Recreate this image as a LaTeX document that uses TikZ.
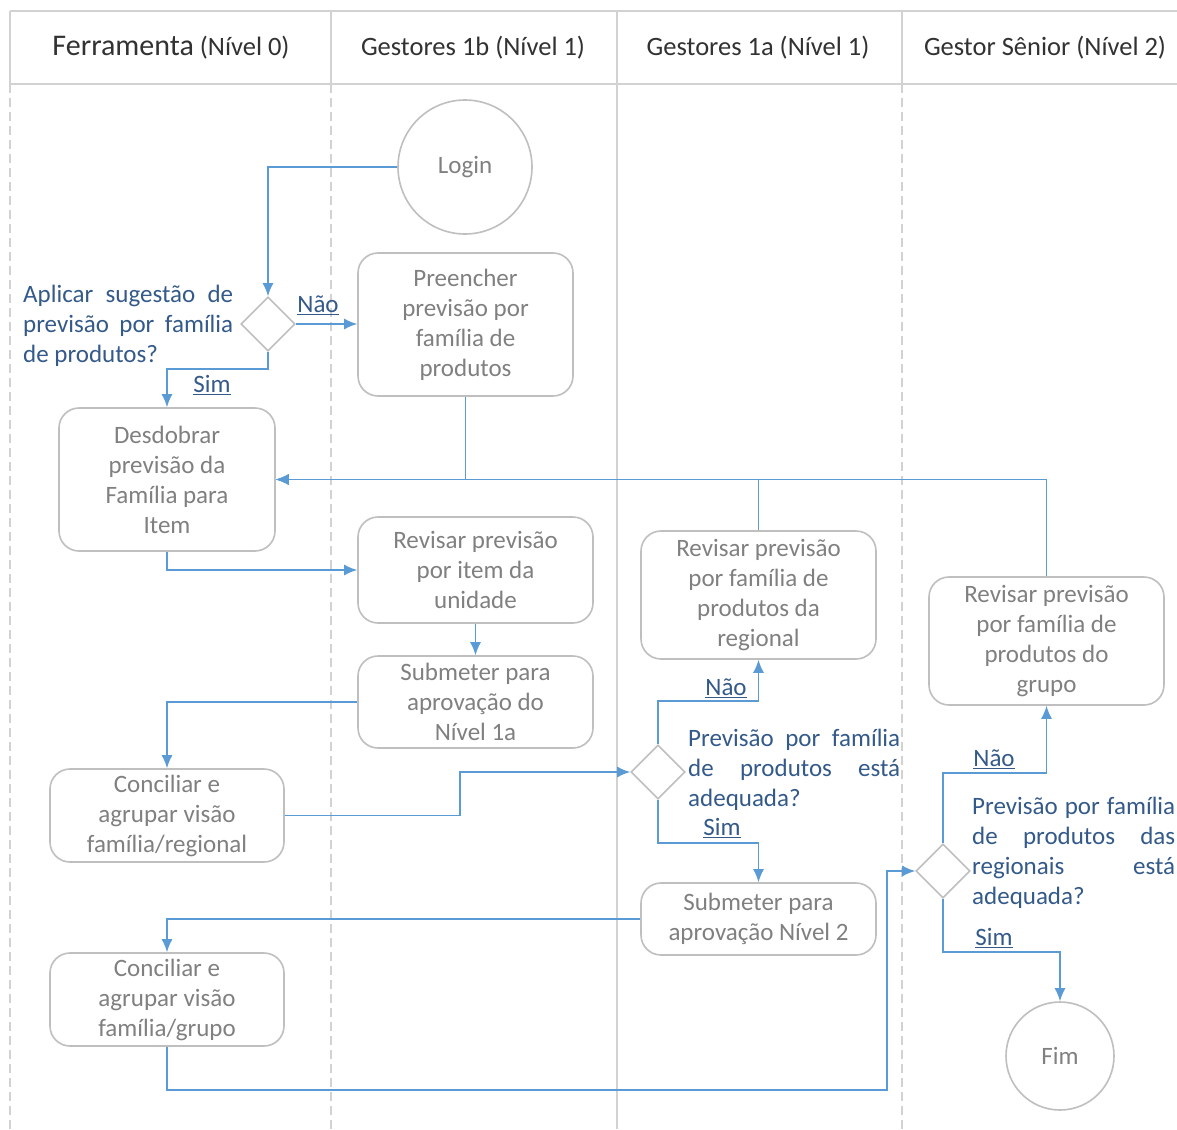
\documentclass[tikz,border=0pt]{standalone}
\usepackage{fontspec}
\setmainfont{Carlito}
\usetikzlibrary{arrows.meta,shapes.geometric}
\definecolor{flowblue}{RGB}{91,155,213}
\definecolor{boxgray}{RGB}{191,191,191}
\definecolor{txtgray}{RGB}{128,128,128}
\definecolor{qblue}{RGB}{52,90,138}
\definecolor{lanegray}{RGB}{210,210,210}
\definecolor{headtxt}{RGB}{50,50,50}
\newcommand{\qline}[2]{\makebox[#1][s]{#2}}
\begin{document}
\begin{tikzpicture}[x=1pt,y=-1pt,
  every node/.style={font=\fontsize{25}{30}\selectfont},
  stepbox/.style={draw=boxgray,line width=1.6pt,rounded corners=20pt,text=txtgray,align=center,inner sep=2pt},
  roundnode/.style={draw=boxgray,line width=1.6pt,circle,text=txtgray,inner sep=0pt},
  decision/.style={draw=boxgray,line width=1.6pt,diamond,aspect=1,minimum width=54pt,minimum height=54pt,inner sep=0pt},
  flow/.style={draw=flowblue,line width=1.5pt,-{Latex[length=13pt,width=11pt]}},
  question/.style={text=qblue,inner sep=0pt,align=left},
  yesno/.style={text=qblue,inner sep=0pt},
  lanesolid/.style={draw=lanegray,line width=1.5pt},
  lanedash/.style={draw=lanegray,line width=1.5pt,dash pattern=on 9pt off 5pt},
  header/.style={text=headtxt,inner sep=0pt,font=\fontsize{26.5}{30}\selectfont}]
\useasboundingbox (0,0) rectangle (1177,1129);
\fill[white] (0,0) rectangle (1177,1129);

% lanes
\draw[lanesolid] (10,11) -- (1177,11);
\draw[lanesolid] (10,84) -- (1177,84);
\foreach \xx in {10,331,617,902} {\draw[lanesolid] (\xx,11) -- (\xx,84);}
\draw[lanedash] (10,84) -- (10,1129);
\draw[lanedash] (331,84) -- (331,1129);
\draw[lanesolid] (617,84) -- (617,1129);
\draw[lanedash] (902,84) -- (902,1129);

\node[header] (h0) at (171,48) {{\fontsize{30}{30}\selectfont Ferramenta} (Nível 0)};
\node[header] (h1) at (473,48) {Gestores 1b (Nível 1)};
\node[header] (h2) at (758,48) {Gestores 1a (Nível 1)};
\node[header] (h3) at (1045,48) {Gestor Sênior (Nível 2)};

% nodes
\node[roundnode,minimum size=134pt] (login) at (465,167) {Login};
\node[roundnode,minimum size=108pt] (fim) at (1060,1056) {Fim};

\node[stepbox,minimum width=215pt,minimum height=143pt] (pre) at (465.5,324.5) {Preencher\\previsão por\\família de\\produtos};
\node[stepbox,minimum width=216pt,minimum height=143pt] (des) at (167,479.5) {Desdobrar\\previsão da\\Família para\\Item};
\node[stepbox,minimum width=235pt,minimum height=106pt] (rev1) at (475.5,570) {Revisar previsão\\por item da\\unidade};
\node[stepbox,minimum width=235pt,minimum height=92pt] (sub1) at (475.5,702) {Submeter para\\aprovação do\\Nível 1a};
\node[stepbox,minimum width=234pt,minimum height=93pt] (con1) at (167,815.5) {Conciliar e\\agrupar visão\\família/regional};
\node[stepbox,minimum width=235pt,minimum height=128pt] (rev2) at (758.5,595) {Revisar previsão\\por família de\\produtos da\\regional};
\node[stepbox,minimum width=235pt,minimum height=72pt] (sub2) at (758.5,919) {Submeter para\\aprovação Nível 2};
\node[stepbox,minimum width=234pt,minimum height=93pt] (con2) at (167,999.5) {Conciliar e\\agrupar visão\\família/grupo};
\node[stepbox,minimum width=235pt,minimum height=128pt] (rev3) at (1046.5,641) {Revisar previsão\\por família de\\produtos do\\grupo};

\node[decision] (d1) at (268,324) {};
\node[decision] (d2) at (658,772) {};
\node[decision] (d3) at (943,871) {};

% question texts
\node[question,anchor=west] (q1) at (23,326) {\qline{210pt}{Aplicar sugestão de}\\\qline{210pt}{previsão por família}\\de produtos?};
\node[question,anchor=west] (q2) at (688,770) {\qline{212pt}{Previsão por família}\\\qline{212pt}{de produtos está}\\adequada?};
\node[question,anchor=west] (q3) at (972,853) {\qline{203pt}{Previsão por família}\\\qline{203pt}{de produtos das}\\\qline{203pt}{regionais está}\\adequada?};

% connectors
\draw[flow] (login.west) -| (d1.north);
\draw[flow] (d1.east) -- (d1.east -| pre.west);
\node[yesno] (n1) at (318,305) {\underline{Não}};
\draw[flow] (d1.south) -- ++(0,17) -| (des.north);
\node[yesno] (s1) at (212,385) {\underline{Sim}};

\draw[flow] (pre.south) |- (des.east);
\draw[flow] (rev3.north) |- (des.east);
\draw[flow] (rev2.north) |- (des.east);

\draw[flow] (des.south) |- (rev1.west);
\draw[flow] (rev1.south) -- (sub1.north);
\draw[flow] (sub1.west) -| (con1.north);
\draw[flow] (con1.east) -- ++(175,0) |- (d2.west);

\draw[flow] (d2.north) -- ++(0,-43) -| (rev2.south);
\node[yesno] (n2) at (726,688) {\underline{Não}};
\draw[flow] (d2.south) -- ++(0,43) -| (sub2.north);
\node[yesno] (s2) at (722,828) {\underline{Sim}};

\draw[flow] (sub2.west) -| (con2.north);
\coordinate (c3) at (887,1090);
\draw[flow] (con2.south) |- (c3) |- (d3.west);

\draw[flow] (d3.north) -- ++(0,-70) -| (rev3.south);
\node[yesno] (n3) at (994,759) {\underline{Não}};
\draw[flow] (d3.south) -- ++(0,53) -| (fim.north);
\node[yesno] (s3) at (994,938) {\underline{Sim}};
\end{tikzpicture}
\end{document}
